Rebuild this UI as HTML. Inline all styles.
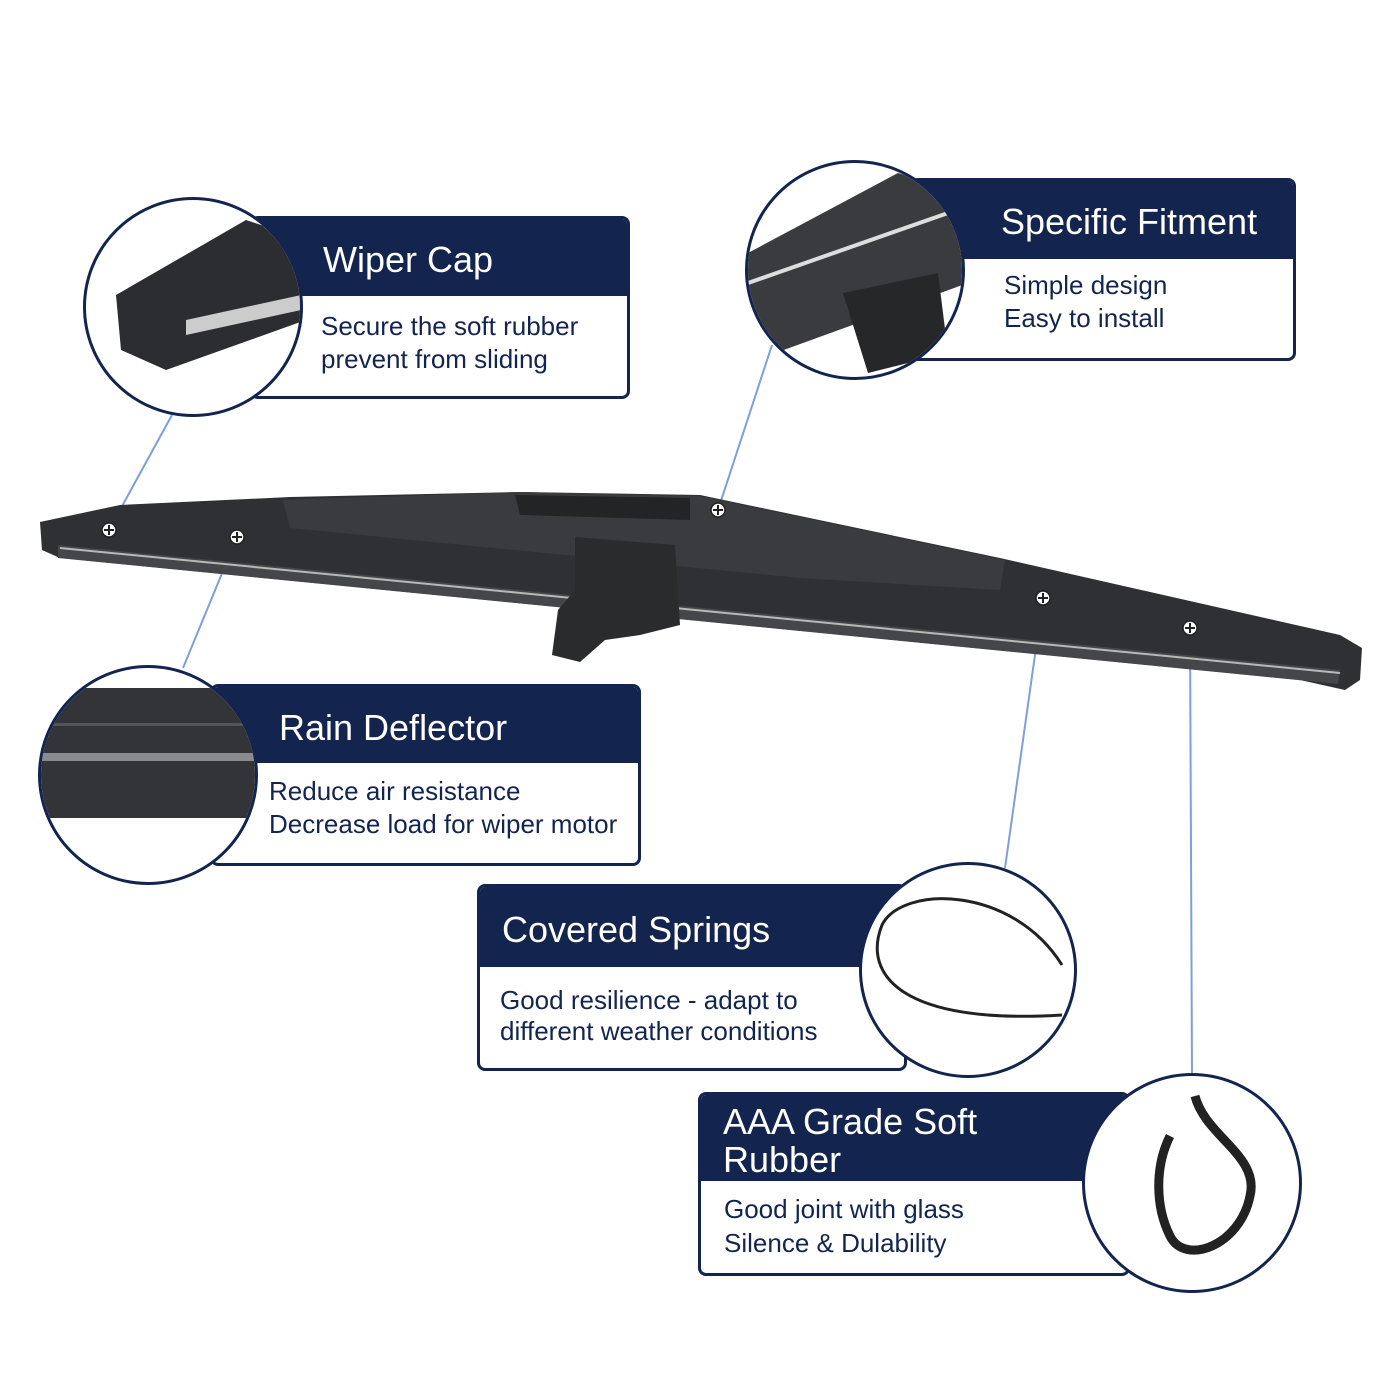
<!DOCTYPE html>
<html><head><meta charset="utf-8"><style>
html,body{margin:0;padding:0;background:#fff;}
body{width:1400px;height:1400px;position:relative;overflow:hidden;font-family:"Liberation Sans",sans-serif;}
.box{position:absolute;border:3px solid #13254f;border-radius:8px;background:#fff;box-sizing:border-box;}
.hd{position:absolute;left:0;right:0;top:0;background:#13254f;color:#fff;font-size:36px;border-radius:5px 5px 0 0;}
.bd{position:absolute;color:#13254f;font-size:26px;line-height:33px;}
.circ{position:absolute;border:3px solid #13254f;border-radius:50%;background:#fff;box-sizing:border-box;overflow:hidden;}
</style></head><body>
<svg width="1400" height="1400" style="position:absolute;left:0;top:0">
<g stroke="#7f9fd6" stroke-width="2">
<line x1="109" y1="530" x2="172" y2="415"/>
<line x1="237" y1="537" x2="183" y2="668"/>
<line x1="718" y1="510" x2="772" y2="345"/>
<line x1="1043" y1="598" x2="1005" y2="868"/>
<line x1="1190" y1="628" x2="1192" y2="1074"/>
</g>
<!-- wiper -->
<path d="M40,522 L120,505 L290,497 L520,492 L700,495 L1000,558 L1340,635 L1362,648 L1360,680 L1345,690 L1300,680 L60,558 L42,550 Z" fill="#2f3033"/>
<path d="M58,545 L1340,670 L1338,684 L58,558 Z" fill="#45464a"/>
<path d="M60,548 L1340,673" stroke="#b8b8b8" stroke-width="2"/>
<path d="M283,500 L520,492 L700,496 L1005,560 L1000,590 L800,578 L290,528 Z" fill="#3a3b3e"/>
<path d="M515,495 L690,498 L690,520 L520,515 Z" fill="#232426"/>
<path d="M575,537 L675,545 L680,625 L640,635 L605,640 L580,662 L552,655 L558,610 L575,590 Z" fill="#2a2b2d"/>
<g fill="#fff" stroke="#222" stroke-width="1.5">
<circle cx="109" cy="530" r="7"/><circle cx="237" cy="537" r="7"/><circle cx="718" cy="510" r="7"/><circle cx="1043" cy="598" r="7"/><circle cx="1190" cy="628" r="7"/>
</g>
<g stroke="#222" stroke-width="2">
<path d="M104,530h10M109,525v10M232,537h10M237,532v10M713,510h10M718,505v10M1038,598h10M1043,593v10M1185,628h10M1190,623v10"/>
</g>
</svg>

<div class="box" style="left:250px;top:216px;width:380px;height:183px"><div class="hd" style="height:77px"><span style="position:absolute;left:70px;top:20px">Wiper Cap</span></div>
<div class="bd" style="left:68px;top:91px">Secure the soft rubber<br>prevent from sliding</div></div>
<div class="circ" style="left:83px;top:197px;width:220px;height:220px"><svg width="220" height="220"><path d="M30,95 L160,20 L220,40 L220,120 L80,170 L35,150 Z" fill="#2c2d30"/><path d="M100,120 L215,95 L215,110 L100,135 Z" fill="#ccc"/></svg></div>

<div class="box" style="left:910px;top:178px;width:386px;height:183px"><div class="hd" style="height:78px"><span style="position:absolute;left:88px;top:20px">Specific Fitment</span></div>
<div class="bd" style="left:91px;top:88px">Simple design<br>Easy to install</div></div>
<div class="circ" style="left:745px;top:160px;width:220px;height:220px"><svg width="220" height="220"><path d="M0,90 L150,10 L220,30 L220,120 L0,200 Z" fill="#3a3b3e"/><path d="M0,120 L200,50" stroke="#ddd" stroke-width="4"/><path d="M95,130 L190,110 L200,190 L120,210 Z" fill="#262729"/></svg></div>

<div class="box" style="left:210px;top:684px;width:431px;height:182px"><div class="hd" style="height:76px"><span style="position:absolute;left:66px;top:20px">Rain Deflector</span></div>
<div class="bd" style="left:56px;top:88px">Reduce air resistance<br>Decrease load for wiper motor</div></div>
<div class="circ" style="left:38px;top:665px;width:220px;height:220px"><svg width="220" height="220"><rect x="0" y="20" width="220" height="130" fill="#333437"/><rect x="0" y="85" width="220" height="8" fill="#8a8b8d"/><rect x="0" y="55" width="220" height="3" fill="#555"/></svg></div>

<div class="box" style="left:477px;top:884px;width:430px;height:187px"><div class="hd" style="height:80px"><span style="position:absolute;left:22px;top:22px">Covered Springs</span></div>
<div class="bd" style="left:20px;top:98px;line-height:31px">Good resilience - adapt to<br>different weather conditions</div></div>
<div class="circ" style="left:859px;top:862px;width:218px;height:216px"><svg width="218" height="216"><path d="M200,100 C150,20 40,20 20,60 C0,110 40,160 200,150" fill="none" stroke="#222" stroke-width="3"/></svg></div>

<div class="box" style="left:698px;top:1092px;width:432px;height:184px"><div class="hd" style="height:86px"><span style="position:absolute;left:22px;top:8px;line-height:38px">AAA Grade Soft<br>Rubber</span></div>
<div class="bd" style="left:23px;top:97px;line-height:34px">Good joint with glass<br>Silence &amp; Dulability</div></div>
<div class="circ" style="left:1082px;top:1073px;width:220px;height:220px"><svg width="220" height="220"><path d="M110,20 C120,60 175,80 165,120 C155,170 100,190 85,160 C70,130 70,90 85,60" fill="none" stroke="#222" stroke-width="9"/></svg></div>
</body></html>
